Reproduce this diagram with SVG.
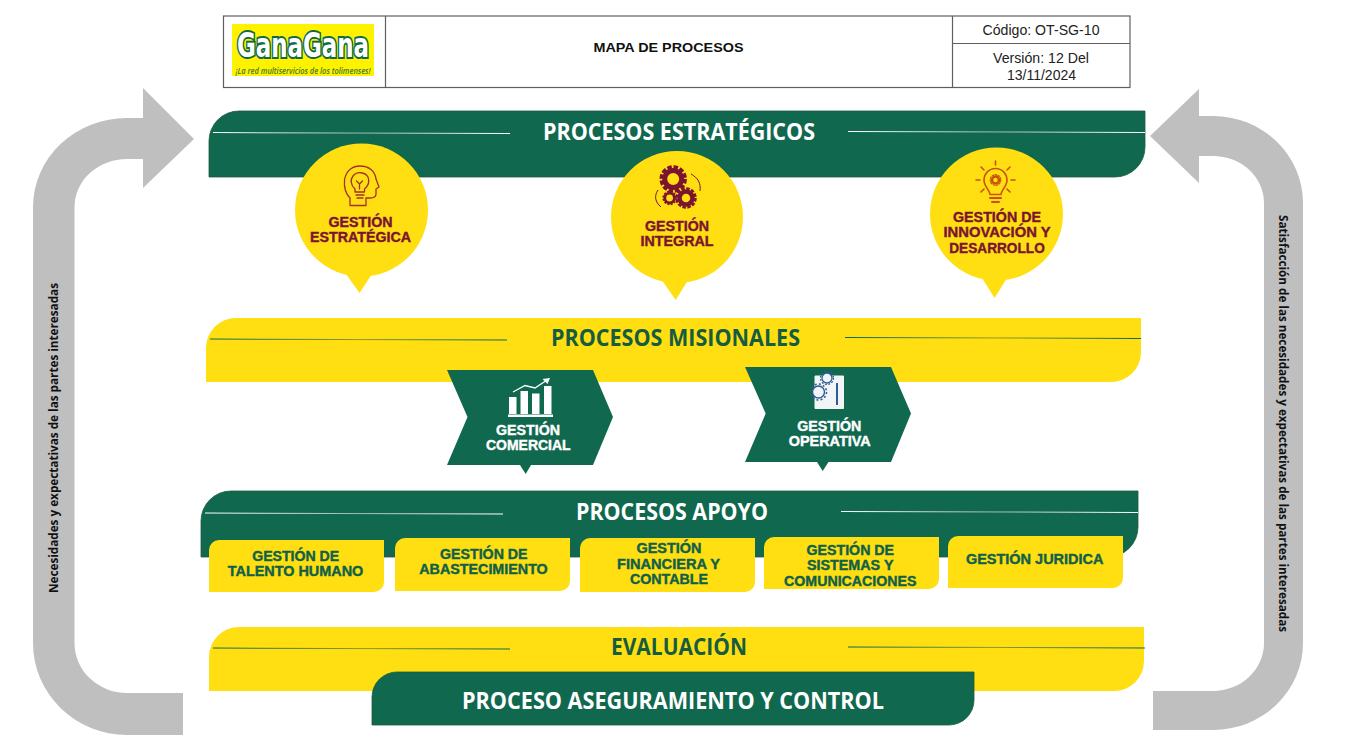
<svg xmlns="http://www.w3.org/2000/svg" width="1350" height="756" viewBox="0 0 1350 756">
<style>
.g{fill:#10684F;stroke:#1F5C3E;stroke-width:.8}
.y{fill:#FFDF12}
.a{fill:#BFBFBF}
.cell{fill:none;stroke:#5F5F5F;stroke-width:1.2}
.h{font-family:"Open Sans","Noto Sans",sans-serif;font-weight:700;font-size:23px;text-anchor:middle}
.hw{fill:#fff}
.hg{fill:#155C40}
.b{font-family:"Liberation Sans",Arial,sans-serif;font-weight:700;font-size:14px;text-anchor:middle;stroke-width:.4px}
.m{fill:#7B1431;stroke:#7B1431}
.w{fill:#fff;stroke:#fff}
.t{fill:#10604A;stroke:#10604A}
.n{font-family:"Liberation Sans",Arial,sans-serif;font-size:14px;text-anchor:middle;fill:#222}
.s{font-family:"Open Sans","Noto Sans",sans-serif;font-weight:700;font-size:12.5px;fill:#111}
</style>
<defs>
<linearGradient id="lw"><stop offset="0" stop-color="#fff"/><stop offset=".5" stop-color="#9DB8AE"/><stop offset="1" stop-color="#fff"/></linearGradient>
<linearGradient id="lg"><stop offset="0" stop-color="#10684F"/><stop offset=".5" stop-color="#8E9C22"/><stop offset="1" stop-color="#10684F"/></linearGradient>
</defs>

<g id="connectors">
<path class="a" d="M183,735 H127 A94,92 0 0 1 33,643 V207 A94,89 0 0 1 127,118 H143 V88 L194,139 L143,188 V159 H127 A52.500,48 0 0 0 74.500,207 V643 A52.500,50 0 0 0 127,693 H183 Z"/>
<path class="a" d="M1153,730 H1213 A90,87 0 0 0 1303,643 V203 A90,87 0 0 0 1213,116 H1199 V89 L1150,136 L1199,183 V156 H1213 A51,47 0 0 1 1264,203 V643 A51,48 0 0 1 1213,691 H1153 Z"/>
<text class="s" transform="translate(58,593) rotate(-90)" textLength="310" lengthAdjust="spacingAndGlyphs">Necesidades y expectativas de las partes interesadas</text>
<text class="s" transform="translate(1279,215) rotate(90)" textLength="417" lengthAdjust="spacingAndGlyphs">Satisfacción de las necesidades y expectativas de las partes interesadas</text>
</g>

<g id="encabezado">
<rect class="cell" x="223.500" y="16" width="906.500" height="71.500"/>
<path class="cell" d="M385.500,16 V87.500 M952.500,16 V87.500 M952.500,43.500 H1130"/>
<g id="logo">
<rect x="232" y="24" width="142" height="52" fill="#FFF200"/>
<text x="303" y="56.500" font-family="'DejaVu Sans',sans-serif" font-weight="700" font-size="33" text-anchor="middle" fill="#fff" stroke="#0E6B46" stroke-width="4" paint-order="stroke" textLength="132" lengthAdjust="spacingAndGlyphs">GanaGana</text>
<text x="303" y="74" font-family="'Open Sans',sans-serif" font-style="italic" font-weight="600" font-size="8px" text-anchor="middle" fill="#3F7A2E" textLength="135" lengthAdjust="spacingAndGlyphs">¡La red multiservicios de los tolimenses!</text>
</g>
<text x="668.500" y="51.500" font-family="'Liberation Sans',Arial,sans-serif" font-weight="700" font-size="13px" text-anchor="middle" fill="#111" textLength="150" lengthAdjust="spacingAndGlyphs">MAPA DE PROCESOS</text>
<text class="n" x="1041" y="35" textLength="117" lengthAdjust="spacingAndGlyphs">Código: OT-SG-10</text>
<text class="n" x="1041" y="63" textLength="96" lengthAdjust="spacingAndGlyphs">Versión: 12 Del</text>
<text class="n" x="1041.500" y="80" textLength="69" lengthAdjust="spacingAndGlyphs">13/11/2024</text>
</g>

<g id="procesos-estrategicos">
<path class="g" d="M209,177 V141 A30,30 0 0 1 239,111 H1145 V147 A30,30 0 0 1 1115,177 Z"/>
<polygon fill="url(#lw)" points="213,132 510,133 510,134 213,133"/>
<polygon fill="url(#lw)" points="848,131 1145,132 1145,133 848,132"/>
<text class="h hw" x="679" y="140" textLength="272" lengthAdjust="spacingAndGlyphs">PROCESOS ESTRATÉGICOS</text>
</g>

<g id="gestion-estrategica">
<circle class="y" cx="361.500" cy="210" r="66.500"/>
<polygon class="y" points="346,274 372,274 359.500,293"/>
<g fill="none" stroke="#A3302A" stroke-width="1.300" stroke-linejoin="round" stroke-linecap="round">
<path d="M350,205.500 V198 C345,193 344,186 344.500,180 C346,170 353,166 360,166 C369,166 375,171 376,179 L379,187 L376,189 V194 C376,197 373,198 370,198 H366 V205.500 Z"/>
<path d="M355,189 C351,185 350,180 353,176 C357,171 365,172 368,177 C370,182 368,186 364.500,189 V192 H355 Z"/>
<path d="M356,195 H364 M357,198 H363 M356.500,181 L359.500,184 L362.500,181 M359.500,184 V189"/>
</g>
<text class="b m" x="360.500" y="226.700" textLength="64" lengthAdjust="spacingAndGlyphs">GESTIÓN</text>
<text class="b m" x="360.500" y="242" textLength="101" lengthAdjust="spacingAndGlyphs">ESTRATÉGICA</text>
</g>

<g id="gestion-integral">
<circle class="y" cx="677" cy="217" r="66"/>
<polygon class="y" points="662.500,281 687.500,281 675.700,300"/>
<g fill="none" stroke="#7B1431">
<circle cx="673.200" cy="179" r="8.500" stroke-width="5"/>
<circle cx="673.200" cy="179" r="12" stroke-width="3.500" stroke-dasharray="4.500 1.780"/>
<circle cx="669.600" cy="198" r="4.800" stroke-width="2.800"/>
<circle cx="669.600" cy="198" r="6.500" stroke-width="1.500" stroke-dasharray="2 1.400"/>
<circle cx="686" cy="198" r="6.500" stroke-width="4.500"/>
<circle cx="686" cy="198" r="9.500" stroke-width="2.500" stroke-dasharray="3.500 1.470"/>
<path d="M691,174 C698,178 701,183 700,191 M658,190 C654,196 655,202 661,207" stroke-width="1"/>
</g>
<text class="b m" x="677" y="231" textLength="64" lengthAdjust="spacingAndGlyphs">GESTIÓN</text>
<text class="b m" x="677" y="246" textLength="73" lengthAdjust="spacingAndGlyphs">INTEGRAL</text>
</g>

<g id="gestion-innovacion">
<circle class="y" cx="996.500" cy="214" r="66.500"/>
<polygon class="y" points="982,278 1007,278 994.600,298"/>
<g fill="none" stroke="#C8520E" stroke-width="1.600" stroke-linecap="round" stroke-linejoin="round">
<path d="M990,194.500 C990,190 984,187 984,180 A11.500,11.500 0 0 1 1007,180 C1007,187 1001,190 1001,194.500 Z"/>
<path d="M995.500,161 V165 M981,167 L984,170 M1010,167 L1007,170 M976,180 H980 M1011,180 H1015 M981,192 L984,189 M1010,192 L1007,189"/>
<path d="M990,198 H1001 M992,202 H999" stroke-width="2"/>
<circle cx="995.500" cy="180" r="3.500" stroke-width="2.500"/>
<circle cx="995.500" cy="180" r="5.300" stroke-width="1.200" stroke-dasharray="1.500 1.500"/>
</g>
<text class="b m" x="997" y="222" textLength="88" lengthAdjust="spacingAndGlyphs">GESTIÓN DE</text>
<text class="b m" x="997" y="237" textLength="107" lengthAdjust="spacingAndGlyphs">INNOVACIÓN Y</text>
<text class="b m" x="997" y="253" textLength="95.500" lengthAdjust="spacingAndGlyphs">DESARROLLO</text>
</g>

<g id="procesos-misionales">
<path class="y" d="M206,382 V348 A30,30 0 0 1 236,318 H1141 V352 A30,30 0 0 1 1111,382 Z"/>
<polygon fill="url(#lg)" points="210,338.500 507,339.500 507,340.500 210,339.500"/>
<polygon fill="url(#lg)" points="845,337 1141,338 1141,339 845,338"/>
<text class="h hg" x="675.500" y="346" textLength="249" lengthAdjust="spacingAndGlyphs">PROCESOS MISIONALES</text>
</g>

<g id="gestion-comercial">
<polygon points="447,370 593,370 613,417 593,465 447,465 467.500,417" fill="#10684F"/>
<polygon points="520,465 531,465 525.700,474" fill="#10684F"/>
<g fill="#fff">
<rect x="509" y="397" width="7.500" height="17"/><rect x="520.500" y="391" width="7.500" height="23"/><rect x="532" y="393.500" width="7.500" height="20.500"/><rect x="544" y="386" width="7.500" height="28"/><rect x="508" y="414.500" width="45" height="2.500"/>
</g>
<path d="M513,392 L525,385.500 L535,388 L547,380" fill="none" stroke="#fff" stroke-width="1.300"/>
<polygon points="550,378 542.500,379 547.500,384" fill="#fff"/>
<text class="b w" x="528" y="435" textLength="64" lengthAdjust="spacingAndGlyphs">GESTIÓN</text>
<text class="b w" x="528.300" y="450" textLength="84.500" lengthAdjust="spacingAndGlyphs">COMERCIAL</text>
</g>

<g id="gestion-operativa">
<polygon points="745,367 891,367 911,413.500 891,462 745,462 765.700,413.500" fill="#10684F"/>
<polygon points="817,462 828.500,462 822.700,471" fill="#10684F"/>
<path d="M815,376 H843.500 V408.500 H815 Z" fill="#F2F5F8" stroke="#F2F5F8"/>
<g fill="none" stroke="#2F5C94">
<circle cx="827" cy="378" r="5" stroke-width="1.300" fill="#F2F5F8"/>
<circle cx="827" cy="378" r="6.500" stroke-width="1.300" stroke-dasharray="1.800 1.600"/>
<circle cx="818.500" cy="392" r="6" stroke-width="1.400" fill="#F2F5F8"/>
<circle cx="818.500" cy="392" r="8" stroke-width="1.500" stroke-dasharray="2 2.200"/>
<path d="M837,383 V405" stroke-width="2"/>
</g>
<text class="b w" x="829.300" y="431" textLength="64" lengthAdjust="spacingAndGlyphs">GESTIÓN</text>
<text class="b w" x="829.700" y="446" textLength="82" lengthAdjust="spacingAndGlyphs">OPERATIVA</text>
</g>

<g id="procesos-apoyo">
<path class="g" d="M201,557 V521 A30,30 0 0 1 231,491 H1138 V527 A30,30 0 0 1 1108,557 Z"/>
<polygon fill="url(#lw)" points="205,512.500 503,513.500 503,514.500 205,513.500"/>
<polygon fill="url(#lw)" points="841,511 1138,512 1138,513 841,512"/>
<text class="h hw" x="672" y="520" textLength="192" lengthAdjust="spacingAndGlyphs">PROCESOS APOYO</text>
</g>

<g id="gestion-talento">
<path class="y" d="M209,592 V550 A10,10 0 0 1 219,540 H384 V582 A10,10 0 0 1 374,592 Z"/>
<text class="b t" x="295.700" y="561.200" textLength="87" lengthAdjust="spacingAndGlyphs">GESTIÓN DE</text>
<text class="b t" x="295.500" y="576.300" textLength="135.500" lengthAdjust="spacingAndGlyphs">TALENTO HUMANO</text>
</g>
<g id="gestion-abastecimiento">
<path class="y" d="M395,591 V548 A10,10 0 0 1 405,538 H570 V581 A10,10 0 0 1 560,591 Z"/>
<text class="b t" x="483.800" y="559.300" textLength="87.500" lengthAdjust="spacingAndGlyphs">GESTIÓN DE</text>
<text class="b t" x="483.500" y="574" textLength="128.500" lengthAdjust="spacingAndGlyphs">ABASTECIMIENTO</text>
</g>
<g id="gestion-financiera">
<path class="y" d="M580,592 V548 A10,10 0 0 1 590,538 H755 V582 A10,10 0 0 1 745,592 Z"/>
<text class="b t" x="669" y="553" textLength="65" lengthAdjust="spacingAndGlyphs">GESTIÓN</text>
<text class="b t" x="668.500" y="568.700" textLength="103" lengthAdjust="spacingAndGlyphs">FINANCIERA Y</text>
<text class="b t" x="669" y="584" textLength="78" lengthAdjust="spacingAndGlyphs">CONTABLE</text>
</g>
<g id="gestion-sistemas">
<path class="y" d="M764,589 V547 A10,10 0 0 1 774,537 H939 V579 A10,10 0 0 1 929,589 Z"/>
<text class="b t" x="850.300" y="555" textLength="87.500" lengthAdjust="spacingAndGlyphs">GESTIÓN DE</text>
<text class="b t" x="850.200" y="570.300" textLength="86.500" lengthAdjust="spacingAndGlyphs">SISTEMAS Y</text>
<text class="b t" x="850.300" y="586" textLength="132.500" lengthAdjust="spacingAndGlyphs">COMUNICACIONES</text>
</g>
<g id="gestion-juridica">
<path class="y" d="M948,588 V546 A10,10 0 0 1 958,536 H1123 V578 A10,10 0 0 1 1113,588 Z"/>
<text class="b t" x="1034.700" y="564" textLength="137.500" lengthAdjust="spacingAndGlyphs">GESTIÓN JURIDICA</text>
</g>

<g id="evaluacion">
<path class="y" d="M209,691 V657 A30,30 0 0 1 239,627 H1144 V661 A30,30 0 0 1 1114,691 Z"/>
<polygon fill="url(#lg)" points="213,647.500 510,648.500 510,649.500 213,648.500"/>
<polygon fill="url(#lg)" points="848,646.500 1145,647.500 1145,648.500 848,647.500"/>
<text class="h hg" x="679" y="655" textLength="136" lengthAdjust="spacingAndGlyphs">EVALUACIÓN</text>
</g>

<g id="aseguramiento-control">
<path class="g" d="M372,725 V697 A25,25 0 0 1 397,672 H974 V700 A25,25 0 0 1 949,725 Z"/>
<text class="h hw" x="673" y="708.500" textLength="422" lengthAdjust="spacingAndGlyphs">PROCESO ASEGURAMIENTO Y CONTROL</text>
</g>
</svg>
